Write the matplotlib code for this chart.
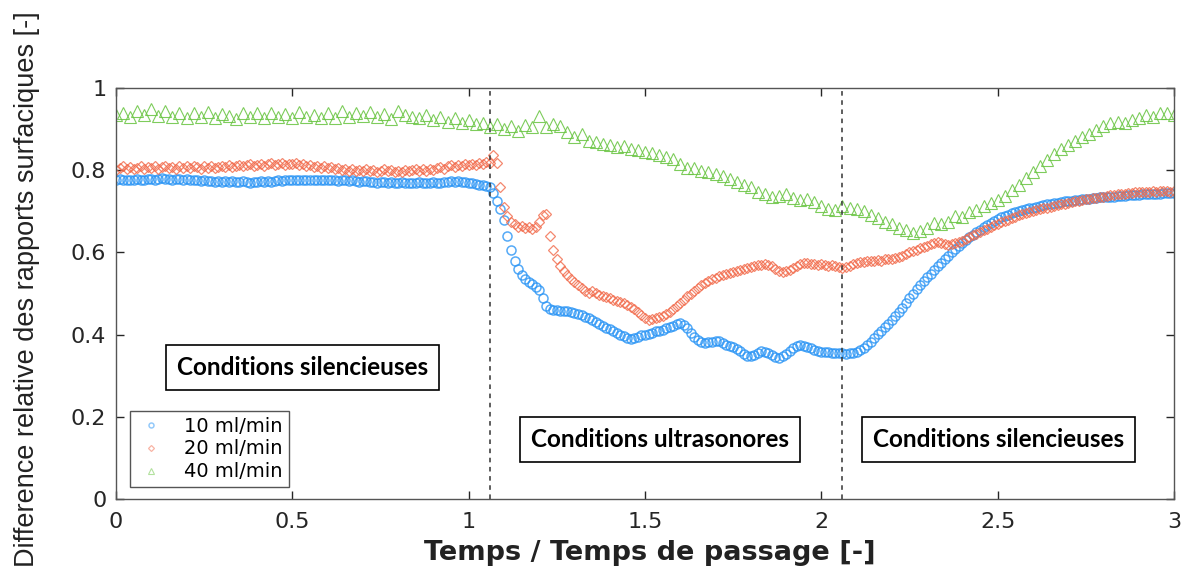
import numpy as np
import matplotlib
matplotlib.use("Agg")
import matplotlib.pyplot as plt

# sampling step of each series (time / residence time)
step_10 = 0.01
step_20 = 0.01
step_40 = 0.02

# 10 ml/min, one row = 0.1 of time
y_10 = [
    0.775, 0.778, 0.776, 0.777, 0.775, 0.776, 0.778, 0.777, 0.776, 0.778,
    0.779, 0.777, 0.778, 0.780, 0.778, 0.779, 0.777, 0.778, 0.779, 0.777,
    0.778, 0.776, 0.777, 0.775, 0.774, 0.776, 0.773, 0.774, 0.772, 0.773,
    0.772, 0.774, 0.771, 0.773, 0.772, 0.771, 0.773, 0.772, 0.770, 0.772,
    0.771, 0.773, 0.772, 0.774, 0.772, 0.773, 0.775, 0.774, 0.776, 0.775,
    0.776, 0.775, 0.777, 0.776, 0.775, 0.777, 0.776, 0.775, 0.777, 0.776,
    0.775, 0.777, 0.776, 0.774, 0.776, 0.775, 0.773, 0.775, 0.774, 0.772,
    0.774, 0.773, 0.771, 0.772, 0.770, 0.772, 0.771, 0.769, 0.771, 0.770,
    0.769, 0.771, 0.770, 0.768, 0.770, 0.769, 0.771, 0.770, 0.768, 0.770,
    0.771, 0.769, 0.770, 0.772, 0.771, 0.773, 0.772, 0.774, 0.772, 0.771,
    0.770, 0.768, 0.766, 0.765, 0.764, 0.762, 0.758, 0.745, 0.725, 0.705,
    0.680, 0.640, 0.605, 0.580, 0.560, 0.545, 0.535, 0.528, 0.522, 0.515,
    0.508, 0.490, 0.470, 0.462, 0.460, 0.460, 0.458, 0.457, 0.458, 0.455,
    0.452, 0.450, 0.447, 0.443, 0.440, 0.435, 0.430, 0.425, 0.420, 0.416,
    0.413, 0.410, 0.405, 0.400, 0.396, 0.393, 0.390, 0.392, 0.395, 0.398,
    0.400, 0.402, 0.405, 0.408, 0.410, 0.412, 0.415, 0.418, 0.422, 0.426,
    0.428, 0.424, 0.415, 0.405, 0.395, 0.388, 0.383, 0.380, 0.381, 0.383,
    0.385, 0.384, 0.380, 0.375, 0.372, 0.370, 0.365, 0.360, 0.352, 0.348,
    0.347, 0.350, 0.356, 0.360, 0.359, 0.355, 0.350, 0.346, 0.344, 0.347,
    0.352, 0.360, 0.367, 0.372, 0.375, 0.373, 0.370, 0.367, 0.363, 0.360,
    0.358, 0.357, 0.357, 0.356, 0.355, 0.355, 0.355, 0.354, 0.355, 0.356,
    0.358, 0.362, 0.368, 0.375, 0.382, 0.392, 0.402, 0.410, 0.418, 0.425,
    0.435, 0.445, 0.455, 0.465, 0.477, 0.488, 0.500, 0.510, 0.520, 0.530,
    0.540, 0.548, 0.557, 0.566, 0.575, 0.584, 0.592, 0.600, 0.608, 0.616,
    0.623, 0.630, 0.637, 0.643, 0.649, 0.655, 0.661, 0.667, 0.672, 0.677,
    0.681, 0.685, 0.689, 0.692, 0.695, 0.698, 0.700, 0.703, 0.705, 0.707,
    0.709, 0.711, 0.713, 0.715, 0.717, 0.718, 0.720, 0.721, 0.723, 0.724,
    0.725, 0.726, 0.727, 0.728, 0.729, 0.730, 0.731, 0.732, 0.733, 0.734,
    0.734, 0.735, 0.736, 0.736, 0.737, 0.738, 0.738, 0.739, 0.739, 0.740,
    0.740, 0.741, 0.741, 0.742, 0.742, 0.743, 0.743, 0.744, 0.744, 0.745,
    0.745,
]

# 20 ml/min
y_20 = [
    0.800, 0.805, 0.810, 0.803, 0.807, 0.802, 0.806, 0.810, 0.804, 0.808,
    0.805, 0.809, 0.803, 0.807, 0.811, 0.805, 0.808, 0.804, 0.810, 0.806,
    0.809, 0.805, 0.811, 0.807, 0.804, 0.809, 0.806, 0.810, 0.805, 0.808,
    0.811, 0.807, 0.812, 0.808, 0.810, 0.813, 0.809, 0.812, 0.815, 0.810,
    0.813, 0.816, 0.811, 0.814, 0.817, 0.812, 0.815, 0.818, 0.813, 0.816,
    0.814, 0.817, 0.812, 0.815, 0.810, 0.813, 0.808, 0.811, 0.806, 0.809,
    0.805, 0.808, 0.803, 0.806, 0.801, 0.804, 0.799, 0.802, 0.797, 0.801,
    0.798, 0.802, 0.797, 0.800, 0.796, 0.799, 0.802, 0.797, 0.800, 0.795,
    0.799, 0.796, 0.801, 0.797, 0.800, 0.803, 0.798, 0.802, 0.799, 0.804,
    0.801, 0.805, 0.808, 0.804, 0.809, 0.812, 0.808, 0.813, 0.810, 0.815,
    0.812, 0.816, 0.813, 0.818, 0.815, 0.819, 0.817, 0.837, 0.817, 0.760,
    0.710, 0.688, 0.675, 0.668, 0.662, 0.665, 0.660, 0.663, 0.658, 0.662,
    0.675, 0.690, 0.693, 0.640, 0.605, 0.585, 0.568, 0.555, 0.545, 0.535,
    0.527, 0.520, 0.513, 0.507, 0.502, 0.505, 0.502, 0.497, 0.495, 0.491,
    0.488, 0.485, 0.483, 0.480, 0.476, 0.472, 0.467, 0.462, 0.456, 0.448,
    0.440, 0.436, 0.438, 0.440, 0.442, 0.445, 0.450, 0.455, 0.462, 0.470,
    0.478, 0.485, 0.493, 0.500, 0.507, 0.513, 0.520, 0.526, 0.531, 0.535,
    0.538, 0.542, 0.545, 0.548, 0.550, 0.553, 0.556, 0.558, 0.560, 0.562,
    0.565, 0.567, 0.569, 0.570, 0.571, 0.570, 0.566, 0.560, 0.555, 0.553,
    0.554, 0.558, 0.563, 0.567, 0.571, 0.574, 0.575, 0.573, 0.571, 0.570,
    0.572, 0.570, 0.568, 0.570, 0.567, 0.565, 0.562, 0.564, 0.568, 0.572,
    0.575, 0.577, 0.576, 0.579, 0.578, 0.580, 0.582, 0.580, 0.583, 0.585,
    0.584, 0.587, 0.589, 0.592, 0.596, 0.600, 0.604, 0.607, 0.610, 0.613,
    0.616, 0.620, 0.624, 0.626, 0.623, 0.620, 0.618, 0.620, 0.622, 0.625,
    0.628, 0.632, 0.637, 0.642, 0.646, 0.650, 0.654, 0.658, 0.662, 0.666,
    0.670, 0.673, 0.677, 0.680, 0.684, 0.687, 0.690, 0.693, 0.696, 0.698,
    0.701, 0.703, 0.705, 0.707, 0.709, 0.711, 0.713, 0.715, 0.717, 0.719,
    0.721, 0.723, 0.724, 0.726, 0.727, 0.729, 0.730, 0.732, 0.733, 0.735,
    0.736, 0.737, 0.739, 0.740, 0.741, 0.742, 0.743, 0.744, 0.745, 0.746,
    0.746, 0.747, 0.748, 0.747, 0.749, 0.748, 0.750, 0.749, 0.750, 0.748,
    0.749,
]

# 40 ml/min, one row = 0.2 of time
y_40 = [
    0.935, 0.940, 0.930, 0.945, 0.935, 0.950, 0.933, 0.945, 0.930, 0.940,
    0.928, 0.938, 0.930, 0.942, 0.928, 0.937, 0.932, 0.925, 0.940, 0.930,
    0.938, 0.926, 0.940, 0.930, 0.937, 0.928, 0.942, 0.930, 0.935, 0.927,
    0.940, 0.928, 0.945, 0.930, 0.938, 0.932, 0.942, 0.930, 0.936, 0.925,
    0.945, 0.935, 0.930, 0.927, 0.935, 0.922, 0.930, 0.918, 0.928, 0.915,
    0.922, 0.912, 0.915, 0.905, 0.912, 0.900, 0.908, 0.895, 0.910, 0.905,
    0.932, 0.905, 0.912, 0.908, 0.892, 0.880, 0.887, 0.872, 0.868, 0.864,
    0.862, 0.857, 0.858, 0.852, 0.848, 0.845, 0.843, 0.838, 0.832, 0.828,
    0.815, 0.805, 0.805, 0.798, 0.795, 0.790, 0.785, 0.778, 0.772, 0.765,
    0.758, 0.748, 0.742, 0.735, 0.738, 0.742, 0.732, 0.728, 0.730, 0.722,
    0.712, 0.705, 0.702, 0.712, 0.708, 0.706, 0.700, 0.692, 0.683, 0.675,
    0.668, 0.660, 0.655, 0.648, 0.652, 0.660, 0.672, 0.668, 0.675, 0.688,
    0.685, 0.698, 0.703, 0.712, 0.720, 0.728, 0.738, 0.752, 0.765, 0.782,
    0.796, 0.810, 0.825, 0.840, 0.852, 0.862, 0.872, 0.880, 0.888, 0.898,
    0.908, 0.914, 0.917, 0.915, 0.922, 0.928, 0.934, 0.930, 0.938, 0.940,
    0.935,
]

t_10 = np.arange(len(y_10)) * step_10
t_20 = np.arange(len(y_20)) * step_20
t_40 = np.arange(len(y_40)) * step_40

labels = ["10 ml/min", "20 ml/min", "40 ml/min"]
switch_times = [1.06, 2.06]

plt.rcParams["font.family"] = ["DejaVu Sans"]

fig = plt.figure(figsize=(11.9, 5.75), dpi=100)
ax = fig.add_axes([0.0975, 0.132, 0.889, 0.715])

ax.plot(t_10, y_10, linestyle="none", marker="o", ms=6.5, mfc="none",
        mec="#2b95f5", mew=1.1, alpha=0.8, label=labels[0])
ax.plot(t_20, y_20, linestyle="none", marker="D", ms=5.5, mfc="none",
        mec="#f26a4b", mew=0.9, alpha=0.8, label=labels[1])
ax.plot(t_40, y_40, linestyle="none", marker="^", ms=8.5, mfc="none",
        mec="#67c43f", mew=0.8, alpha=0.85, label=labels[2])

for t in switch_times:
    ax.axvline(t, color="#333333", linestyle=(0, (3, 3)), linewidth=1.1)

ax.set_xlim(0, 3)
ax.set_ylim(0, 1)
ax.set_xticks([0, 0.5, 1, 1.5, 2, 2.5, 3])
ax.set_xticklabels(["0", "0.5", "1", "1.5", "2", "2.5", "3"])
ax.set_yticks([0, 0.2, 0.4, 0.6, 0.8, 1])
ax.set_yticklabels(["0", "0.2", "0.4", "0.6", "0.8", "1"])
ax.tick_params(direction="in", length=6, width=1, top=True, right=True,
               labelsize=16, colors="#262626")
ax.tick_params(axis="x", pad=9)
ax.tick_params(axis="y", pad=7)
for s in ax.spines.values():
    s.set_color("#555555")
    s.set_linewidth(1)

ax.set_xlabel("Temps / Temps de passage [-]", fontsize=19.5,
              fontweight="bold", color="#222222")
ax.xaxis.set_label_coords(0.505, -0.1)
ax.set_ylabel("Difference relative des rapports surfaciques [-]",
              fontsize=19.5, color="#222222", family="Liberation Sans")
ax.yaxis.set_label_coords(-0.072, 0.51)

box = dict(boxstyle="square,pad=0.45", fc="white", ec="black", lw=1.2)
for tx, ty, txt in [(0.53, 0.321, "Conditions silencieuses"),
                    (1.542, 0.146, "Conditions ultrasonores"),
                    (2.503, 0.146, "Conditions silencieuses")]:
    ax.text(tx, ty, txt, ha="center", va="center", fontsize=17.5,
            fontweight="bold", family="Lato", bbox=box)

leg = ax.legend(loc="lower left", bbox_to_anchor=(0.013, 0.029),
                borderaxespad=0, fontsize=14, markerscale=0.55,
                fancybox=False, framealpha=1, handletextpad=0.9,
                handlelength=1.6, borderpad=0.3, labelspacing=0.2)
leg.get_frame().set_edgecolor("#555555")
for h in leg.legend_handles:
    h.set_alpha(0.5)

fig.savefig("out.png", dpi=100)
